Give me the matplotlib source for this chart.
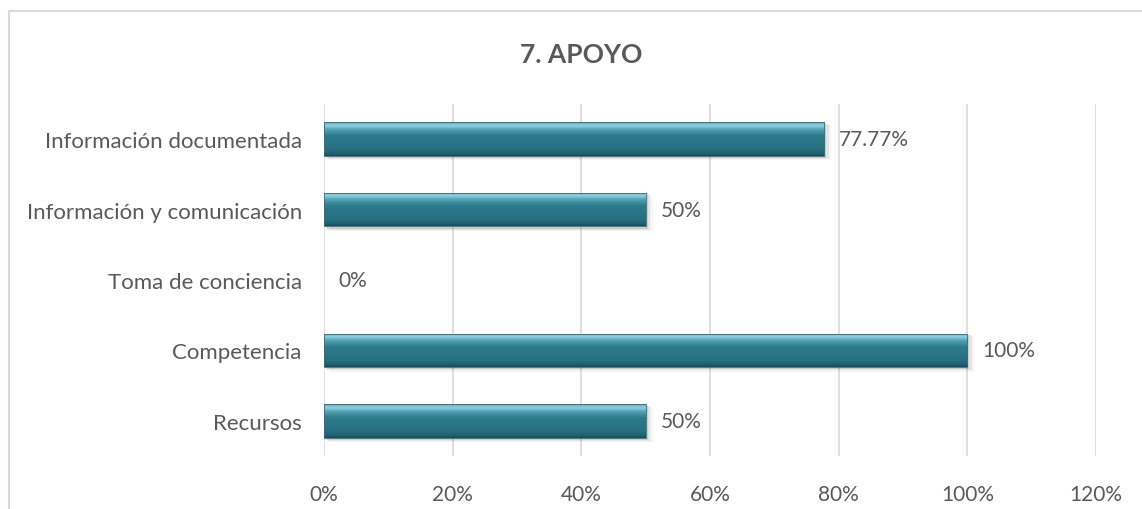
import numpy as np
import matplotlib
matplotlib.use("Agg")
import matplotlib.pyplot as plt
from matplotlib.patches import Rectangle
from matplotlib.colors import LinearSegmentedColormap

plt.rcParams['font.family'] = ['Lato', 'DejaVu Sans']

categories = ["Recursos", "Competencia", "Toma de conciencia",
              "Información y comunicación", "Información documentada"]
values = [50, 100, 0, 50, 77.77]
value_labels = ["50%", "100%", "0%", "50%", "77.77%"]
tick_values = [0, 20, 40, 60, 80, 100, 120]
tick_labels = ["0%", "20%", "40%", "60%", "80%", "100%", "120%"]
title = "7. APOYO"

text_color = "#595959"
grid_color = "#d9d9d9"

fig = plt.figure(figsize=(11.42, 5.10), dpi=100)
W, H = 1142, 510

# outer chart frame
fig.patches.append(Rectangle((9 / W, -0.1), 1.2, 1 - 12 / H + 0.1,
                             transform=fig.transFigure, fill=False,
                             edgecolor=grid_color, linewidth=1.5))

ax = fig.add_axes([324 / W, 1 - 457 / H, (1096 - 324) / W, (457 - 105) / H])
ax.set_xlim(0, 120)
ax.set_ylim(-0.5, len(categories) - 0.5)
for s in ax.spines.values():
    s.set_visible(False)
ax.set_xticks(tick_values)
ax.set_xticklabels(tick_labels)
ax.set_yticks(range(len(categories)))
ax.set_yticklabels(categories)
ax.tick_params(axis='both', length=0, colors=text_color)
ax.tick_params(axis='x', pad=20, labelsize=15)
ax.tick_params(axis='y', pad=16, labelsize=16)
ax.grid(axis='x', color=grid_color, linewidth=1.2)
ax.set_axisbelow(True)

# vertical shading for the bevelled bars (top to bottom)
bar_cmap = LinearSegmentedColormap.from_list("bevel", [
    (0.00, "#5a9fb0"),
    (0.10, "#93d3e3"),
    (0.22, "#52a0b3"),
    (0.40, "#2e7b8d"),
    (0.80, "#276f80"),
    (0.92, "#206273"),
    (1.00, "#184b58"),
])
grad = np.linspace(0, 1, 256).reshape(-1, 1)

bar_h = 0.48
for i, (v, lab) in enumerate(zip(values, value_labels)):
    if v > 0:
        # soft drop shadow
        for k, a in enumerate([0.10, 0.07, 0.04]):
            sh = Rectangle((0.3 + 0.2 * k, i - bar_h / 2 - 0.03 - 0.015 * k),
                           v + 0.2 * k, bar_h + 0.02, facecolor="black",
                           edgecolor="none", alpha=a, zorder=2)
            ax.add_patch(sh)
        rect = Rectangle((0, i - bar_h / 2), v, bar_h, facecolor="none",
                         edgecolor="#3e6d78", linewidth=0.6, zorder=4)
        ax.add_patch(rect)
        im = ax.imshow(grad, cmap=bar_cmap, aspect='auto',
                       extent=(0, v, i - bar_h / 2, i + bar_h / 2),
                       zorder=3, interpolation='bicubic')
        im.set_clip_path(rect)
    ax.text(v + 2.3, i, lab, va='center', ha='left', fontsize=15,
            color=text_color, zorder=5)

ax.set_xlim(0, 120)
ax.set_ylim(-0.5, len(categories) - 0.5)

fig.text(581 / W, 1 - 55 / H, title, ha='center', va='center',
         fontsize=19, fontweight='bold', color=text_color)

fig.savefig("out.png", dpi=100)
